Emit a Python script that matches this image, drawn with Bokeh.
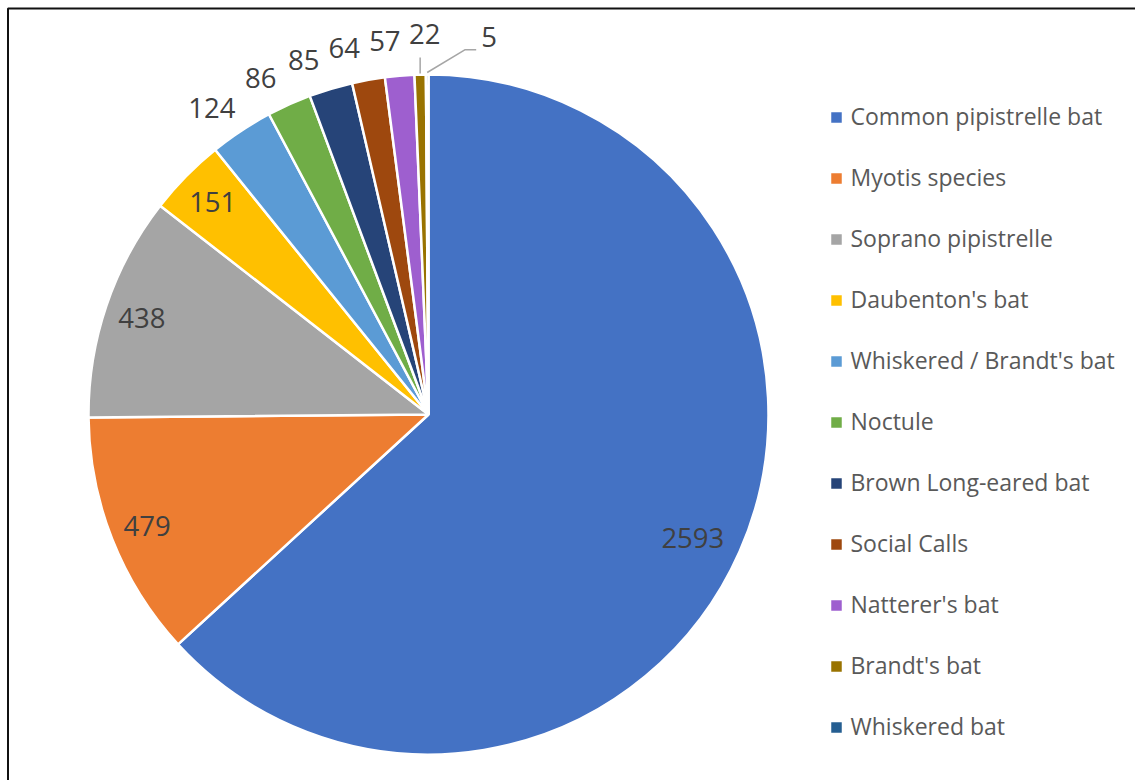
import math
from bokeh.plotting import figure
from bokeh.models import Range1d, ColumnDataSource
from bokeh.embed import file_html
from bokeh.resources import INLINE
from bokeh.core.properties import value

# ---- data ----
species = ["Common pipistrelle bat", "Myotis species", "Soprano pipistrelle",
           "Daubenton's bat", "Whiskered / Brandt's bat", "Noctule",
           "Brown Long-eared bat", "Social Calls", "Natterer's bat",
           "Brandt's bat", "Whiskered bat"]
counts = [2593, 479, 438, 151, 124, 86, 85, 64, 57, 22, 5]
palette = ["#4472C4", "#ED7D31", "#A5A5A5", "#FFC000", "#5B9BD5", "#70AD47",
           "#264478", "#9E480E", "#9E5FCF", "#997300", "#255E91"]

# ---- layout ----
W, H = 1135, 780
CX, CY, R = 428, H - 414, 340
FONT = "Open Sans"
LBL_SIZE = "27.5px"
# angular nudges (degrees) for outside labels, to spread them like the original
OUT_NUDGE = [1.8, 2.3, 2.7, 2.8, 1.8]

p = figure(width=W, height=H, x_range=Range1d(0, W), y_range=Range1d(0, H),
           output_backend="svg", toolbar_location=None, min_border=0,
           x_axis_type=None, y_axis_type=None)
p.grid.visible = False
p.outline_line_color = None
p.background_fill_color = "white"
p.border_fill_color = "white"

# chart border (only top and left edges fall inside the window)
p.quad(left=[7.5], right=[W + 20], bottom=[-20], top=[H - 8],
       fill_color=None, line_color="#111111", line_width=2)

total = float(sum(counts))
starts, ends, mids = [], [], []
c = 0.0
for v in counts:
    c0 = c / total
    c += v
    c1 = c / total
    starts.append(math.pi / 2 - 2 * math.pi * c1)
    ends.append(math.pi / 2 - 2 * math.pi * c0)
    mids.append(math.pi / 2 - 2 * math.pi * (c0 + c1) / 2)

src = ColumnDataSource(dict(start=starts, end=ends, color=palette,
                            species=species, count=counts))
p.wedge(x=CX, y=CY, radius=R, start_angle="start", end_angle="end",
        fill_color="color", line_color="white", line_width=2.5, source=src)

# ---- data labels ----
lx, ly, lt = [], [], []
k_out = 0
for i, v in enumerate(counts):
    a = mids[i]
    frac = v / total
    if frac > 0.5:
        rf, shift = 0.858, math.radians(-1.3)
    elif frac > 0.035:
        rf, shift = 0.89, 0.0
    elif v >= 50:
        rf, shift = 1.105, math.radians(OUT_NUDGE[k_out])
        k_out += 1
    else:
        continue
    lx.append(CX + R * rf * math.cos(a + shift))
    ly.append(CY + R * rf * math.sin(a + shift))
    lt.append(str(v))
p.text(x=lx, y=ly, text=lt, text_font=value(FONT), text_font_size=LBL_SIZE,
       text_color="#404040", text_align="center", text_baseline="middle")

# leader-line labels for the two thinnest slices
lead_col = "#A6A6A6"
# Brandt's bat (22)
i = species.index("Brandt's bat")
a = mids[i]
x0, y0 = CX + (R + 1) * math.cos(a), CY + (R + 1) * math.sin(a)
y1 = CY + R * 1.05
p.line(x=[x0, x0], y=[y0, y1], line_color=lead_col, line_width=1.5)
p.text(x=[x0 + 4.5], y=[y1 + 24], text=[str(counts[i])], text_font=value(FONT),
       text_font_size=LBL_SIZE, text_color="#404040", text_align="center",
       text_baseline="middle")
# Whiskered bat (5)
i = species.index("Whiskered bat")
a = mids[i]
x0, y0 = CX + (R + 2) * math.cos(a), CY + (R + 2) * math.sin(a)
x1, y1 = x0 + 38, CY + R * 1.073
x2 = x1 + 11
p.line(x=[x0, x1, x2], y=[y0, y1, y1], line_color=lead_col, line_width=1.5)
p.text(x=[x2 + 5], y=[y1 + 13], text=[str(counts[i])], text_font=value(FONT),
       text_font_size=LBL_SIZE, text_color="#404040", text_align="left",
       text_baseline="middle")

# ---- legend ----
LEG_X, LEG_Y0, LEG_DY = 836, H - 117, 61
leg_y = [LEG_Y0 - k * LEG_DY for k in range(len(species))]
p.rect(x=[LEG_X] * len(species), y=leg_y, width=10.5, height=10.5,
       width_units="screen", height_units="screen",
       fill_color=palette, line_color=None)
p.text(x=[LEG_X + 14] * len(species), y=[v + 2 for v in leg_y], text=species,
       text_font=value(FONT), text_font_size="23px", text_color="#595959",
       text_align="left", text_baseline="middle")

open("out.html", "w").write(file_html(p, INLINE))
